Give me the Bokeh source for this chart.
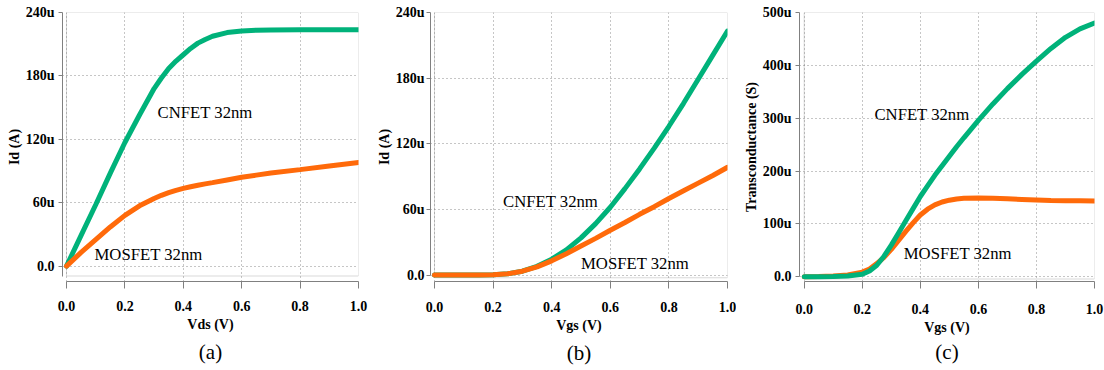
from bokeh.plotting import figure
from bokeh.models import Range1d, FixedTicker, BoxAnnotation, Label, Title
from bokeh.layouts import row
from bokeh.embed import file_html
from bokeh.resources import INLINE

# ---------------- data (currents in uA, transconductance in uS) ----------------
vds = [0.0, 0.05, 0.1, 0.15, 0.2, 0.25, 0.3, 0.325, 0.35, 0.375, 0.4, 0.425,
       0.45, 0.475, 0.5, 0.55, 0.6, 0.65, 0.7, 0.8, 0.9, 1.0]
a_cnfet = [0, 29, 58, 88, 117, 143, 168, 178, 187, 194, 200, 206,
           211, 214.5, 217.5, 221, 222.5, 223.2, 223.5, 223.6, 223.6, 223.6]
a_mosfet = [0, 13, 25, 37, 48, 57, 64, 67, 69.5, 71.7, 73.5, 75.1,
            76.5, 77.8, 79, 81.5, 84, 86.1, 88, 91.3, 94.7, 98]

vgs = [0.0, 0.05, 0.1, 0.15, 0.2, 0.25, 0.3, 0.35, 0.4, 0.45, 0.5, 0.55, 0.6,
       0.65, 0.7, 0.75, 0.8, 0.85, 0.9, 0.95, 1.0]
b_cnfet = [0, 0, 0, 0, 0.3, 1.2, 3.5, 8, 14.5, 23, 34, 47, 62, 79, 97, 116,
           136, 157, 179, 201, 223]
b_mosfet = [0, 0, 0, 0, 0.3, 1.2, 3.5, 7.5, 13, 19.5, 26.5, 33.5, 41, 48,
            55.5, 62.5, 70, 77, 84, 91, 98.5]

vgs_c = [0.0, 0.05, 0.1, 0.15, 0.2, 0.225, 0.25, 0.275, 0.3, 0.325, 0.35,
         0.375, 0.4, 0.425, 0.45, 0.475, 0.5, 0.525, 0.55, 0.6, 0.65, 0.7,
         0.75, 0.8, 0.85, 0.9, 0.95, 1.0]
c_cnfet = [0, 0.2, 0.5, 1.5, 5, 11, 22, 39, 60, 83, 106, 129, 152, 172,
           192, 210, 228, 246, 263, 296, 327, 356, 383, 408, 432, 453, 469, 480]
c_mosfet = [0, 0.5, 1.5, 3.5, 9, 15, 25, 37, 52, 69, 86, 102, 117, 128,
            136, 141.5, 145, 147.3, 148.5, 149, 148.5, 147.5, 146.5, 145.5,
            144.5, 144, 144, 143.5]

x_ticks = [0.0, 0.2, 0.4, 0.6, 0.8, 1.0]
x_tick_labels = ["0.0", "0.2", "0.4", "0.6", "0.8", "1.0"]
id_ticks = [0, 60, 120, 180, 240]
id_tick_labels = ["0.0", "60u", "120u", "180u", "240u"]
gm_ticks = [0, 100, 200, 300, 400, 500]
gm_tick_labels = ["0.0", "100u", "200u", "300u", "400u", "500u"]

GREEN = "#00B27A"
ORANGE = "#FF6A0A"
GRAY = "#808080"
SERIF = "Liberation Serif"
H = 370


def panel(width, bl, br, bt, bb, x0, y0, y1, box_bottom, yaxis_bottom,
          yticks, ylabels, xlabel, ylabel, caption,
          x_std, xl_std, y_std, cap_std):
    p = figure(width=width, height=H, output_backend="svg",
               toolbar_location=None, min_border_left=bl, min_border_right=br,
               min_border_top=bt, min_border_bottom=bb,
               x_range=Range1d(x0, 1.0), y_range=Range1d(y0, y1))
    p.outline_line_color = None
    p.background_fill_color = "white"
    p.border_fill_color = "white"
    xa = p.xaxis[0]
    ya = p.yaxis[0]
    xa.ticker = FixedTicker(ticks=x_ticks)
    xa.major_label_overrides = dict(zip(x_ticks, x_tick_labels))
    ya.ticker = FixedTicker(ticks=yticks)
    ya.major_label_overrides = dict(zip(yticks, ylabels))
    xa.bounds = (0, 1)
    ya.bounds = (yaxis_bottom, y1)
    for ax in (xa, ya):
        ax.axis_line_color = GRAY
        ax.major_tick_line_color = GRAY
        ax.minor_tick_line_color = None
        ax.major_tick_in = 0
        ax.major_label_text_font = SERIF
        ax.major_label_text_font_style = "bold"
        ax.major_label_text_font_size = "14px"
        ax.major_label_text_color = "black"
        ax.axis_label_text_font = SERIF
        ax.axis_label_text_font_style = "bold"
        ax.axis_label_text_font_size = "14px"
        ax.axis_label_text_color = "black"
    xa.major_tick_out = 7
    xa.major_label_standoff = x_std
    xa.axis_label_standoff = xl_std
    ya.major_tick_out = 4
    ya.major_label_standoff = y_std
    ya.axis_label_standoff = 1
    xa.axis_label = xlabel
    ya.axis_label = ylabel
    for g in (p.xgrid[0], p.ygrid[0]):
        g.grid_line_color = "#8c8c8c"
        g.grid_line_dash = "1 3"
        g.grid_line_width = 1
    p.add_layout(BoxAnnotation(left=0, right=1, bottom=box_bottom, top=y1,
                               fill_alpha=0, fill_color=None,
                               line_color=GRAY, line_width=1, level="underlay"))
    p.add_layout(Title(text=caption, align="center", text_font=SERIF,
                       text_font_size="21px", text_font_style="normal",
                       text_color="black", standoff=cap_std), "below")
    return p


def note(p, x, y, text):
    p.add_layout(Label(x=x, y=y, text=text, text_font=SERIF,
                       text_font_size="16.7px", text_baseline="middle",
                       text_align="left", text_color="black"))


# (a)
pa = panel(370, 62, 12, 12, 87, -4 / 292, -14.6, 240, -9.4, -9.4,
           id_ticks, id_tick_labels, "Vds (V)", "Id (A)", "(a)",
           12, 3, 4, 6)
pa.line(vds, a_cnfet, line_color=GREEN, line_width=5, line_cap="round")
pa.line(vds, a_mosfet, line_color=ORANGE, line_width=5, line_cap="round")
note(pa, 0.312, 145, "CNFET 32nm")
note(pa, 0.096, 11.3, "MOSFET 32nm")

# (b)
pb = panel(366, 60, 9, 11, 89, -4 / 293, -5.9, 240, -2.5, 0,
           id_ticks, id_tick_labels, "Vgs (V)", "Id (A)", "(b)",
           13, 3, 2, 6)
pb.line(vgs, b_cnfet, line_color=GREEN, line_width=5, line_cap="round")
pb.line(vgs, b_mosfet, line_color=ORANGE, line_width=5, line_cap="round")
note(pb, 0.234, 67, "CNFET 32nm")
note(pb, 0.50, 10.2, "MOSFET 32nm")

# (c)
pc = panel(368, 63, 10, 12, 86, -4.7 / 290.3, -8.8, 500, -4.1, 0,
           gm_ticks, gm_tick_labels, "Vgs (V)", "Transconductance (S)", "(c)",
           15, 3, 4, 1)
pc.line(vgs_c, c_mosfet, line_color=ORANGE, line_width=5, line_cap="round")
pc.line(vgs_c, c_cnfet, line_color=GREEN, line_width=5, line_cap="round")
note(pc, 0.242, 307, "CNFET 32nm")
note(pc, 0.343, 43.6, "MOSFET 32nm")

layout = row(pa, pb, pc, spacing=0)
open("out.html", "w").write(file_html(layout, INLINE))
